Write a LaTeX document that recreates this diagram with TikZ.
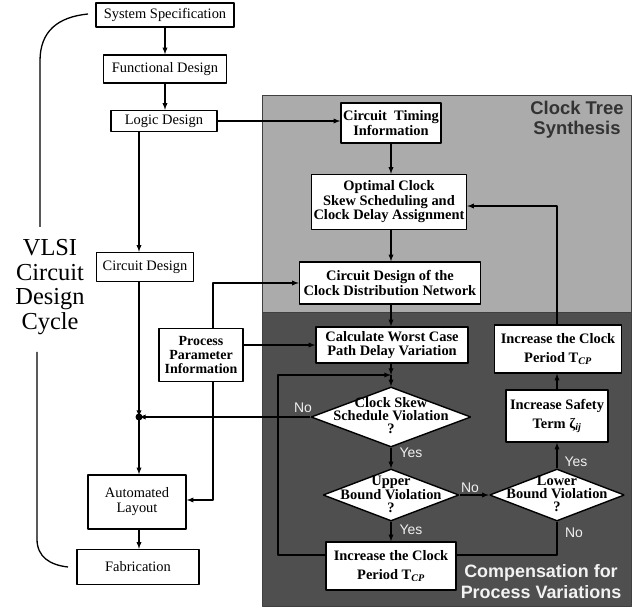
\documentclass[tikz,border=0pt]{standalone}
\usepackage{fontspec}
\setmainfont{Liberation Serif}
\setsansfont{Liberation Sans}
\usetikzlibrary{shapes.geometric}
\definecolor{lightarea}{rgb}{0.67,0.67,0.67}
\definecolor{darkarea}{rgb}{0.31,0.31,0.31}
\begin{document}
\begin{tikzpicture}[>=latex,line join=bevel,
  box/.style={draw,fill=white,line width=1.4bp,inner sep=1bp,align=center,
    font=\fontsize{14.5}{15}\selectfont},
  bbox/.style={box,font=\fontsize{14.5}{14.5}\selectfont\bfseries},
  dia/.style={draw,fill=white,line width=1.4bp,diamond,inner sep=0pt,
    minimum width=#1},
  dtext/.style={align=center,inner sep=0pt,font=\fontsize{14.5}{13}\selectfont\bfseries},
  lbl/.style={inner sep=0pt,text=black!6,font=\sffamily\fontsize{14}{14}\selectfont},
  area/.style={font=\sffamily\bfseries\fontsize{18.5}{20.5}\selectfont,align=center,inner sep=0pt},
]
  \useasboundingbox (0bp,0bp) rectangle (632bp,609bp);
  \pgfsetlinewidth{1.3bp}
%%
  % Areas
  \draw [draw=black!75,fill=lightarea,line width=0.8bp] (262bp,297bp) rectangle (631bp,514bp);
  \draw [draw=black!75,fill=darkarea,line width=0.8bp] (262bp,3bp) rectangle (631bp,297bp);
  \node [area,text=black!80] (cts) at (577bp,489bp) {Clock Tree\\Synthesis};
  \node [area,text=black!5,font=\sffamily\bfseries\fontsize{18}{21}\selectfont] (cpv) at (541bp,27bp) {Compensation for\\Process Variations};
%%
  % Node: spec
  \node [box,minimum width=138bp,minimum height=24bp] (spec) at (165bp,594bp) {System Specification};
  % Node: func
  \node [box,minimum width=123bp,minimum height=28bp] (func) at (165bp,540bp) {Functional Design};
  % Node: logic
  \node [box,minimum width=106bp,minimum height=21bp] (logic) at (164bp,488bp) {Logic Design};
  % Node: circ
  \node [box,minimum width=97bp,minimum height=29bp] (circ) at (145bp,342bp) {Circuit Design};
  % Node: proc
  \node [box,minimum width=84bp,minimum height=53bp,font=\fontsize{14}{14}\selectfont\bfseries] (proc) at (201bp,254bp) {Process\\Parameter\\Information};
  % Node: layout
  \node [box,minimum width=98bp,minimum height=54bp] (layout) at (137bp,107bp) {Automated\\Layout};
  % Node: fab
  \node [box,minimum width=122bp,minimum height=35bp] (fab) at (138bp,42bp) {Fabrication};
  \coordinate (jn) at (139bp,192bp);
%%
  % Node: timing
  \node [bbox,minimum width=100bp,minimum height=40bp] (timing) at (391bp,486bp) {Circuit\ \ Timing\\Information};
  % Node: optimal
  \node [bbox,minimum width=155bp,minimum height=55bp] (optimal) at (389bp,407bp) {Optimal Clock\\Skew Scheduling and\\Clock Delay Assignment};
  % Node: cdn
  \node [bbox,minimum width=181bp,minimum height=42bp] (cdn) at (390bp,326bp) {Circuit Design of the\\Clock Distribution Network};
  % Node: worst
  \node [bbox,minimum width=152bp,minimum height=36bp] (worst) at (392bp,264bp) {Calculate Worst Case\\Path Delay Variation};
  \coordinate (merge) at (391bp,234bp);
  % Node: skew
  \node [dia=160bp,minimum height=60bp,aspect=2.67] (skew) at (391bp,192bp) {};
  \node [dtext] (skewt) at (391bp,193bp) {Clock Skew\\Schedule Violation\\?};
  % Node: upper
  \node [dia=136bp,minimum height=52bp,aspect=2.6] (upper) at (391bp,114bp) {};
  \node [dtext] (uppert) at (391bp,115bp) {Upper\\Bound Violation\\?};
  % Node: incbot
  \node [bbox,minimum width=130bp,minimum height=48bp] (incbot) at (391bp,43bp) {Increase the Clock\\[4bp]Period T\textsubscript{\textit{CP}}};
  % Node: inctop
  \node [bbox,minimum width=127bp,minimum height=48bp] (inctop) at (558bp,260bp) {Increase the Clock\\[4bp]Period T\textsubscript{\textit{CP}}};
  % Node: safety
  \node [bbox,minimum width=102bp,minimum height=52bp] (safety) at (557bp,193bp) {Increase Safety\\[4bp]Term ζ\textsubscript{\textit{ij}}};
  % Node: lower
  \node [dia=135bp,minimum height=52bp,aspect=2.6] (lower) at (557bp,114bp) {};
  \node [dtext] (lowert) at (557bp,115bp) {Lower\\Bound Violation\\?};
%%
  % Edge: spec -> func
  \draw [->] (spec.south) -- (spec.south |- func.north);
  % Edge: func -> logic
  \draw [->] (func.south) -- (func.south |- logic.north);
  % Edge: logic -> circ
  \draw [->] (logic.south -| jn) -- (circ.north -| jn);
  % Edge: circ -> jn
  \draw [->] (circ.south -| jn) -- (jn);
  % Edge: jn -> layout
  \draw [->] (jn) -- (layout.north -| jn);
  % Edge: layout -> fab
  \draw [->] (layout.south -| jn) -- (fab.north -| jn);
  \fill (jn) circle (3.5bp);
  % Edge: logic -> timing
  \draw [->] (logic.east) -- (logic.east -| timing.west);
  % Edge: timing -> optimal
  \draw [->] (timing.south) -- (timing.south |- optimal.north);
  % Edge: optimal -> cdn
  \draw [->] (optimal.south -| timing) -- (cdn.north -| timing);
  % Edge: cdn -> worst
  \draw [->] (cdn.south -| timing) -- (worst.north -| timing);
  % Edge: proc -> cdn
  \draw [->] ([xshift=12bp]proc.north) |- (cdn.west);
  % Edge: proc -> worst
  \draw [->] (worst.west -| proc.east) -- (worst.west);
  % Edge: proc -> layout
  \draw [->] ([xshift=12bp]proc.south) |- ([yshift=2bp]layout.east);
  % Edge: worst -> skew
  \draw [->] (worst.south -| merge) -- (merge);
  \draw [->] (merge) -- (skew.north);
  % Edge: skew -> jn
  \draw [->] (skew.west) -- (jn);
  % Edge: skew -> upper
  \draw [->] (skew.south) -- (upper.north);
  % Edge: upper -> incbot
  \draw [->] (upper.south) -- (incbot.north);
  % Edge: upper -> lower
  \draw [->] (upper.east) -- (lower.west);
  % Edge: lower -> safety
  \draw [->] (lower.north) -- (safety.south);
  % Edge: safety -> inctop
  \draw [->] (safety.north) -- (safety.north |- inctop.south);
  % Edge: inctop -> optimal
  \draw [->] (inctop.north -| safety) |- ([yshift=-4bp]optimal.east);
  % Edge: lower -> incbot
  \draw (lower.south) |- ([yshift=11bp]incbot.east);
  % Edge: incbot -> merge
  \draw [->] ([yshift=11bp]incbot.west) -| (278bp,234bp) -- (merge);
%%
  % Labels
  \node [lbl] (no1) at (303bp,201bp) {No};
  \node [lbl] (yes1) at (411bp,156bp) {Yes};
  \node [lbl] (no2) at (470bp,121bp) {No};
  \node [lbl] (yes2) at (576bp,147bp) {Yes};
  \node [lbl] (yes3) at (411bp,79bp) {Yes};
  \node [lbl] (no3) at (574bp,76bp) {No};
%%
  % Cycle bracket
  \node [align=center,inner sep=0pt,font=\fontsize{24.5}{24.5}\selectfont] (vlsi) at (50bp,322bp) {VLSI\\Circuit\\Design\\Cycle};
  \draw (88bp,595bp) .. controls (58bp,592bp) and (40bp,578bp) .. (40bp,548bp) -- (40bp,382bp);
  \draw (37bp,257bp) -- (37bp,70bp) .. controls (37bp,52bp) and (50bp,44bp) .. (68bp,42bp);
%
\end{tikzpicture}
\end{document}
